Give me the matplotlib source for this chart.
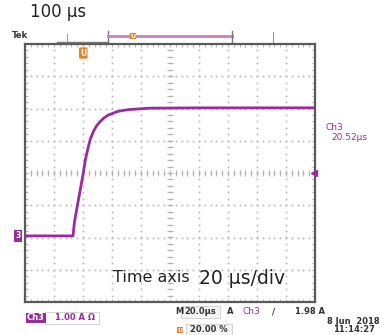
import numpy as np
import matplotlib
matplotlib.use('Agg')
import matplotlib.pyplot as plt
from matplotlib.patches import Rectangle

# ── Trace (time in µs across the screen, current in A rel. to centre) ──
t_us = [0, 33.1, 34.1, 36.8, 40.2, 41.7, 43.7, 45.2, 47.1, 49.3, 51.7, 54.5, 57.5,
        60.0, 63.2, 67.6, 72.4, 79.3, 86.2, 120, 160, 200]
i_A = [-1.95, -1.95, -1.52, -0.84, 0.0, 0.43, 0.82, 1.07, 1.28, 1.46, 1.59, 1.71, 1.80,
       1.84, 1.90, 1.94, 1.97, 1.99, 2.01, 2.02, 2.02, 2.02]

X_DIV, Y_DIV = 20.0, 1.0      # 20 µs/div, 1 A/div
N_X, N_Y = 10, 8
trig_t = 40.2                  # trigger point (orange marker)
trig_lvl = 0.0

PURPLE = '#9c2a9c'
ORANGE = '#ee7f22'
GRID = '#b4b4b4'
BORDER = '#5a5a5a'

W, H = 392, 335
fig = plt.figure(figsize=(W/100, H/100), dpi=100)
ax = fig.add_axes([25/W, (H-302)/H, 290/W, 258/H])
ax.set_xlim(0, N_X*X_DIV)
ax.set_ylim(-N_Y/2*Y_DIV, N_Y/2*Y_DIV)
ax.set_xticks([]); ax.set_yticks([])
for s in ax.spines.values():
    s.set_color(BORDER); s.set_linewidth(1.6)

# graticule: dotted lines made of dots every 1/5 division
xm = np.arange(0, N_X*X_DIV + 0.01, X_DIV/5)
ym = np.arange(-N_Y/2*Y_DIV, N_Y/2*Y_DIV + 0.01, Y_DIV/5)
for k in range(1, N_X):
    ax.plot(np.full_like(ym, k*X_DIV), ym, ls='none', marker='s', ms=1.2, mew=0,
            color=GRID, zorder=1)
for k in range(1, N_Y):
    ax.plot(xm, np.full_like(xm, (k - N_Y/2)*Y_DIV), ls='none', marker='s', ms=1.2, mew=0,
            color=GRID, zorder=1)

# minor ticks on centre cross and edges
ax.plot(xm, np.zeros_like(xm), ls='none', marker='|', ms=4.5, color=GRID, mew=0.8, zorder=1)
ax.plot(np.full_like(ym, 100.0), ym, ls='none', marker='_', ms=4.5, color=GRID, mew=0.8, zorder=1)
ax.plot(xm, np.full_like(xm, -4), ls='none', marker='|', ms=4, color=GRID, mew=0.8, zorder=1)
ax.plot(xm, np.full_like(xm, 4), ls='none', marker='|', ms=4, color=GRID, mew=0.8, zorder=1)
ax.plot(np.zeros_like(ym), ym, ls='none', marker='_', ms=4, color=GRID, mew=0.8, zorder=1)
ax.plot(np.full_like(ym, 200.0), ym, ls='none', marker='_', ms=4, color=GRID, mew=0.8, zorder=1)

# trace
ax.plot(t_us, i_A, color=PURPLE, lw=2.0, solid_joinstyle='round', zorder=3)

# trigger marker on top and level marker on right
ax.text(trig_t, 3.72, 'U', color='white', fontsize=5.5, fontweight='bold', ha='center', va='center',
        bbox=dict(boxstyle='round,pad=0.15', fc=ORANGE, ec='none'), zorder=4)
ax.plot([199], [trig_lvl], marker='<', ms=4, color=PURPLE, clip_on=False, zorder=4)

# overlay in pixel coordinates for the screen annotations
top = fig.add_axes([0, 0, 1, 1], facecolor='none')
top.set_xlim(0, W); top.set_ylim(H, 0); top.axis('off')

top.text(30, 12, '100 µs', fontsize=12, color='#222222', ha='left', va='center')
top.text(12, 36, 'Tek', fontsize=6, fontweight='bold', color='#333333', ha='left', va='center')

# record-view bar along the top
top.plot([57, 108], [42, 42], color='#777777', lw=1.0)
top.plot([67, 67], [34, 42], color='#999999', lw=0.8)
top.plot([108, 108], [31, 42], color='#777777', lw=1.0)
top.plot([108, 232], [36, 36], color='#c48bc4', lw=2.2)
top.plot([232, 232], [31, 42], color='#777777', lw=1.0)
top.plot([273, 273], [32, 42], color='#999999', lw=0.8)
top.text(133, 36, 'U', color='white', fontsize=4.5, fontweight='bold', ha='center', va='center',
         bbox=dict(boxstyle='round,pad=0.1', fc=ORANGE, ec='none'))
# channel ground marker on left
top.text(18, 236, '3', color='white', fontsize=5.5, fontweight='bold', ha='center', va='center',
         bbox=dict(boxstyle='square,pad=0.2', fc=PURPLE, ec='none'))

# right-side readout
top.text(326, 127, 'Ch3', color=PURPLE, fontsize=6.5, ha='left', va='center')
top.text(331, 138, '20.52µs', color=PURPLE, fontsize=6.5, ha='left', va='center')

top.text(113, 278, 'Time axis', color='#222222', fontsize=11.5, ha='left', va='center')
top.text(199, 278, '20 µs/div', color='#222222', fontsize=13.5, ha='left', va='center')

# status line
top.text(175, 312, 'M', color='#333333', fontsize=6, fontweight='bold', ha='left', va='center')
top.add_patch(Rectangle((181, 306), 39, 12, fc='#f4f4f4', ec='#cccccc', lw=0.6))
top.text(184, 312, '20.0µs', color='#333333', fontsize=6, fontweight='bold', ha='left', va='center')
top.text(227, 312, 'A', color='#333333', fontsize=6, fontweight='bold', ha='left', va='center')
top.text(243, 312, 'Ch3', color=PURPLE, fontsize=6.5, ha='left', va='center')
top.text(272, 312, '/', color='#333333', fontsize=6, fontweight='bold', ha='left', va='center')
top.text(295, 312, '1.98 A', color='#333333', fontsize=6, fontweight='bold', ha='left', va='center')

top.text(27, 318, 'Ch3', color='white', fontsize=6, fontweight='bold', ha='left', va='center',
         bbox=dict(boxstyle='square,pad=0.1', fc=PURPLE, ec='none'))
top.add_patch(Rectangle((45, 312), 54, 12, fc='white', ec='#cccccc', lw=0.6))
top.text(55, 318, '1.00 A \u03a9', color=PURPLE, fontsize=6, fontweight='bold', ha='left', va='center')

top.text(180, 330, 'U', color='white', fontsize=4.5, fontweight='bold', ha='center', va='center',
         bbox=dict(boxstyle='square,pad=0.1', fc=ORANGE, ec='none'))
top.add_patch(Rectangle((186, 324), 46, 12, fc='#f4f4f4', ec='#cccccc', lw=0.6))
top.text(190, 330, '20.00 %', color='#333333', fontsize=6, fontweight='bold', ha='left', va='center')

top.text(380, 322, '8 Jun  2018', color='#333333', fontsize=6, fontweight='bold', ha='right', va='center')
top.text(375, 330, '11:14:27', color='#333333', fontsize=6, fontweight='bold', ha='right', va='center')

fig.savefig('out.png', dpi=100, facecolor='white')
